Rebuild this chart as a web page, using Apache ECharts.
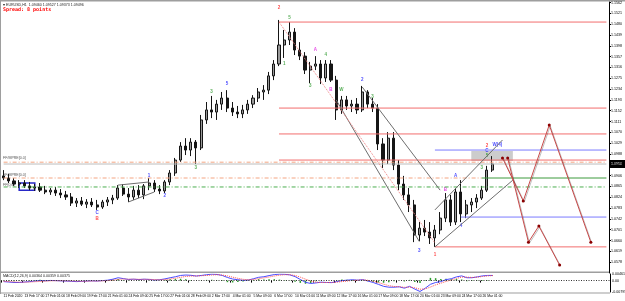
<!DOCTYPE html>
<html>
<head>
<meta charset="utf-8">
<script src="https://cdn.jsdelivr.net/npm/echarts@6/dist/echarts.min.js"></script>
<style>
  html, body { margin: 0; padding: 0; background: #fff; }
  #chart { width: 625px; height: 301px; }
</style>
</head>
<body>
<div id="chart"></div>
<script>
// EURUSD H1, bars grouped by 8 hours (4 bars per time label)
const tickLabels = ['11 Feb 2020', '13 Feb 17:00', '17 Feb 01:00', '18 Feb 09:00', '19 Feb 17:00', '21 Feb 01:00',
  '24 Feb 09:00', '25 Feb 17:00', '27 Feb 01:00', '28 Feb 09:00', '2 Mar 17:00', '4 Mar 01:00',
  '5 Mar 09:00', '6 Mar 17:00', '10 Mar 01:00', '11 Mar 09:00', '12 Mar 17:00', '16 Mar 01:00',
  '17 Mar 09:00', '18 Mar 17:00', '20 Mar 01:00', '23 Mar 09:00', '24 Mar 17:00', '26 Mar 01:00']

const opens = [1.0905, 1.0897, 1.0886, 1.0874, 1.0878, 1.0867, 1.0859, 1.0863, 1.0851, 1.0844,
  1.0851, 1.0840, 1.0833, 1.0825, 1.0802, 1.0810, 1.0798, 1.0806, 1.0795, 1.0787,
  1.0806, 1.0814, 1.0821, 1.0859, 1.0836, 1.0825, 1.0851, 1.0833, 1.0867, 1.0878,
  1.0855, 1.0848, 1.0882, 1.0916, 1.0965, 1.1018, 1.1003, 1.1033, 1.1011, 1.1117,
  1.1155, 1.1147, 1.1177, 1.1200, 1.1162, 1.1147, 1.1140, 1.1155, 1.1177, 1.1200,
  1.1223, 1.1230, 1.1284, 1.1329, 1.1401, 1.1420, 1.1450, 1.1382, 1.1359, 1.1306,
  1.1321, 1.1329, 1.1276, 1.1329, 1.1268, 1.1155, 1.1193, 1.1170, 1.1177, 1.1155,
  1.1223, 1.1177, 1.1162, 1.1026, 1.0965, 1.1048, 1.0946, 1.0874, 1.0833, 1.0795,
  1.0681, 1.0707, 1.0692, 1.0670, 1.0700, 1.0745, 1.0814, 1.0730, 1.0844, 1.0761,
  1.0795, 1.0806, 1.0821, 1.0851, 1.0927]
const closes = [1.0897, 1.0886, 1.0874, 1.0878, 1.0867, 1.0859, 1.0863, 1.0851, 1.0844, 1.0851,
  1.0840, 1.0833, 1.0825, 1.0802, 1.0810, 1.0798, 1.0806, 1.0795, 1.0787, 1.0806,
  1.0814, 1.0821, 1.0859, 1.0836, 1.0825, 1.0851, 1.0833, 1.0867, 1.0878, 1.0855,
  1.0848, 1.0882, 1.0916, 1.0965, 1.1018, 1.1003, 1.1033, 1.1011, 1.1117, 1.1155,
  1.1147, 1.1177, 1.1200, 1.1162, 1.1147, 1.1140, 1.1155, 1.1177, 1.1200, 1.1223,
  1.1230, 1.1284, 1.1329, 1.1401, 1.1420, 1.1450, 1.1382, 1.1359, 1.1306, 1.1321,
  1.1329, 1.1276, 1.1329, 1.1268, 1.1155, 1.1193, 1.1170, 1.1177, 1.1155, 1.1223,
  1.1177, 1.1162, 1.1026, 1.0965, 1.1048, 1.0946, 1.0874, 1.0833, 1.0795, 1.0681,
  1.0707, 1.0692, 1.0670, 1.0700, 1.0745, 1.0814, 1.0730, 1.0844, 1.0761, 1.0795,
  1.0806, 1.0821, 1.0851, 1.0927, 1.0950]
const lows = [1.0889, 1.0878, 1.0867, 1.0859, 1.0859, 1.0851, 1.0848, 1.0844, 1.0836, 1.0833,
  1.0829, 1.0821, 1.0814, 1.0791, 1.0787, 1.0791, 1.0783, 1.0787, 1.0776, 1.0780,
  1.0791, 1.0798, 1.0814, 1.0829, 1.0806, 1.0814, 1.0821, 1.0817, 1.0851, 1.0844,
  1.0836, 1.0840, 1.0870, 1.0905, 1.0958, 1.0984, 1.0980, 1.0950, 1.1003, 1.1102,
  1.1124, 1.1117, 1.1155, 1.1147, 1.1132, 1.1124, 1.1124, 1.1140, 1.1162, 1.1185,
  1.1193, 1.1215, 1.1268, 1.1321, 1.1352, 1.1401, 1.1363, 1.1344, 1.1291, 1.1257,
  1.1306, 1.1253, 1.1261, 1.1261, 1.1117, 1.1140, 1.1155, 1.1147, 1.1140, 1.1147,
  1.1162, 1.1147, 1.1003, 1.0935, 1.0950, 1.0927, 1.0851, 1.0814, 1.0768, 1.0654,
  1.0658, 1.0677, 1.0647, 1.0636, 1.0684, 1.0730, 1.0715, 1.0719, 1.0730, 1.0745,
  1.0768, 1.0783, 1.0814, 1.0844, 1.0920]
const highs = [1.0927, 1.0912, 1.0897, 1.0889, 1.0889, 1.0882, 1.0874, 1.0878, 1.0867, 1.0859,
  1.0863, 1.0855, 1.0848, 1.0840, 1.0821, 1.0825, 1.0817, 1.0821, 1.0814, 1.0814,
  1.0825, 1.0833, 1.0870, 1.0874, 1.0859, 1.0867, 1.0870, 1.0874, 1.0897, 1.0889,
  1.0870, 1.0889, 1.0927, 1.0973, 1.1033, 1.1048, 1.1048, 1.1041, 1.1136, 1.1185,
  1.1208, 1.1193, 1.1223, 1.1230, 1.1185, 1.1170, 1.1174, 1.1193, 1.1211, 1.1238,
  1.1249, 1.1299, 1.1344, 1.1496, 1.1458, 1.1488, 1.1465, 1.1412, 1.1374, 1.1337,
  1.1359, 1.1344, 1.1344, 1.1344, 1.1284, 1.1208, 1.1208, 1.1193, 1.1200, 1.1246,
  1.1230, 1.1200, 1.1177, 1.1048, 1.1071, 1.1071, 1.0965, 1.0905, 1.0859, 1.0814,
  1.0730, 1.0738, 1.0730, 1.0719, 1.0768, 1.0840, 1.0833, 1.0859, 1.0889, 1.0814,
  1.0821, 1.0836, 1.0867, 1.0943, 1.0980]

// MACD(12,26,9) sub window
const macdMain = [-0.0007, -0.0010, -0.0013, -0.0013, -0.0010, -0.0007, -0.0003, 0.0000, -0.0001, 0.0001,
  0.0000, -0.0002, -0.0003, -0.0005, -0.0007, -0.0005, -0.0003, -0.0002, -0.0003, 0.0000,
  0.0003, 0.0010, 0.0020, 0.0014, 0.0008, 0.0010, 0.0007, 0.0010, 0.0008, 0.0004,
  0.0006, 0.0012, 0.0020, 0.0027, 0.0036, 0.0039, 0.0037, 0.0032, 0.0036, 0.0041,
  0.0045, 0.0043, 0.0036, 0.0022, 0.0011, 0.0006, 0.0002, 0.0004, 0.0013, 0.0023,
  0.0027, 0.0035, 0.0042, 0.0045, 0.0044, 0.0040, 0.0028, 0.0008, -0.0012, -0.0020,
  -0.0016, -0.0011, -0.0013, -0.0014, -0.0007, 0.0000, 0.0003, 0.0006, 0.0003, 0.0007,
  -0.0003, -0.0013, -0.0026, -0.0040, -0.0046, -0.0046, -0.0043, -0.0053, -0.0040, -0.0059,
  -0.0076, -0.0053, -0.0026, -0.0013, -0.0007, 0.0007, 0.0013, 0.0026, 0.0033, 0.0020,
  0.0020, 0.0026, 0.0033, 0.0036, 0.0036]
const macdSignal = [-0.0005, -0.0007, -0.0009, -0.0011, -0.0011, -0.0010, -0.0008, -0.0006, -0.0004, -0.0002,
  -0.0001, -0.0001, -0.0002, -0.0003, -0.0004, -0.0005, -0.0004, -0.0003, -0.0003, -0.0002,
  0.0000, 0.0003, 0.0008, 0.0011, 0.0010, 0.0010, 0.0009, 0.0009, 0.0009, 0.0007,
  0.0006, 0.0007, 0.0011, 0.0016, 0.0023, 0.0029, 0.0032, 0.0032, 0.0034, 0.0036,
  0.0039, 0.0041, 0.0039, 0.0033, 0.0024, 0.0016, 0.0009, 0.0006, 0.0008, 0.0013,
  0.0019, 0.0025, 0.0032, 0.0038, 0.0041, 0.0041, 0.0036, 0.0024, 0.0010, -0.0003,
  -0.0011, -0.0013, -0.0013, -0.0013, -0.0011, -0.0007, -0.0003, 0.0001, 0.0003, 0.0005,
  0.0002, -0.0004, -0.0013, -0.0025, -0.0035, -0.0041, -0.0043, -0.0047, -0.0045, -0.0050,
  -0.0060, -0.0058, -0.0045, -0.0030, -0.0018, -0.0006, 0.0004, 0.0015, 0.0025, 0.0024,
  0.0022, 0.0024, 0.0029, 0.0033, 0.0035]
const macdHist = [-0.0002, -0.0003, -0.0004, -0.0002, 0.0001, 0.0003, 0.0005, 0.0006, 0.0003, 0.0003,
  0.0001, -0.0001, -0.0001, -0.0002, -0.0003, 0.0000, 0.0001, 0.0001, 0.0000, 0.0002,
  0.0003, 0.0007, 0.0012, 0.0003, -0.0002, 0.0000, -0.0002, 0.0001, -0.0001, -0.0003,
  0.0000, 0.0005, 0.0009, 0.0011, 0.0013, 0.0010, 0.0005, 0.0000, 0.0002, 0.0005,
  0.0006, 0.0002, -0.0003, -0.0011, -0.0013, -0.0010, -0.0007, -0.0002, 0.0005, 0.0010,
  0.0008, 0.0010, 0.0010, 0.0007, 0.0003, -0.0001, -0.0008, -0.0016, -0.0022, -0.0017,
  -0.0005, 0.0002, 0.0000, -0.0001, 0.0004, 0.0007, 0.0006, 0.0005, 0.0000, 0.0002,
  -0.0005, -0.0009, -0.0013, -0.0015, -0.0011, -0.0005, 0.0000, -0.0006, 0.0005, -0.0009,
  -0.0016, 0.0005, 0.0019, 0.0017, 0.0011, 0.0013, 0.0009, 0.0011, 0.0008, -0.0004,
  -0.0002, 0.0002, 0.0004, 0.0003, 0.0001]
const macdTicks = [0.00461, 0, -0.00795]

// drawn objects: levels, trend lines, projections, wave marks
const fibLevels = [1.1488, 1.1162, 1.1064, 1.0965, 1.0636]
const fibFrom = [53, 53, 53, 53, 83]
const fibNames = ['100.0', '61.8', '50.0', '38.2', '0.0']
const feLevels = [1.1003, 1.0749]
const feFrom = [83, 88]
const greenLevel = 1.0897
const orangeDashLevels = [1.0957, 1.0897]
const orangeDashTo = [116, 92]
const greenDashLevel = 1.0863
const trendLines = [
  [[69, 1.1242], [84, 1.0851]],
  [[64, 1.1193], [80, 1.0656]],
  [[83, 1.0776], [96, 1.1041]],
  [[83, 1.0636], [98, 1.0889]],
  [[22, 1.0870], [28, 1.0882]],
  [[24, 1.0806], [29, 1.0844]]
]
const dottedTrend = [[53, 1.1488], [83, 1.0651]]
const projectionA = [[96, 1.0973], [100, 1.0810], [105, 1.1098], [113, 1.0654]]
const projectionB = [[97, 1.0973], [101, 1.0654], [103, 1.0715], [107, 1.0567]]
const grayZone = [[90, 1.0999], [98, 1.0961]]
const blueBox = [[3, 1.0878], [6, 1.0851]]
const waveMarks = [
  [18, 1.0764, 'C', 'b'], [18, 1.0743, 'B', 'r'], [28, 1.0905, '1', 'b'], [31, 1.0829, '2', 'b'],
  [37, 1.0935, '3', 'g'], [40, 1.1223, '3', 'g'], [43, 1.1253, '5', 'b'], [53, 1.1541, '2', 'r'],
  [54, 1.1329, '1', 'g'], [55, 1.1504, '5', 'g'], [59, 1.1246, '3', 'g'], [60, 1.1382, 'A', 'm'],
  [62, 1.1363, '4', 'g'], [63, 1.1230, 'B', 'm'], [65, 1.1230, 'W', 'g'], [69, 1.1268, '2', 'b'],
  [71, 1.1204, '3', 'g'], [80, 1.0620, '3', 'b'], [83, 1.0605, '1', 'r'], [85, 1.0851, 'B', 'm'],
  [87, 1.0905, 'A', 'b'], [88, 1.0715, '4', 'b'], [92, 1.0935, '3', 'g'], [93, 1.1018, '2', 'r'],
  [93, 1.0999, 'C', 'b'], [93, 1.0980, '5', 'g'], [95, 1.1022, 'W(4)', 'b']
]

const waveColor = { r: '#ff2020', g: '#2e9a2e', b: '#2020ff', m: '#e020e0' }
const catCount = 117
const cats = Array.from({ length: catCount }, (_, i) => i)
const lastIdx = catCount - 1
const small = 3.6
const font = 'Liberation Sans'

const chart = echarts.init(document.getElementById('chart'), null, { renderer: 'canvas' })

function hLine(price, from, to, color, type, extra) {
  return Object.assign({
    type: 'line',
    xAxisIndex: 0,
    yAxisIndex: 0,
    data: [[from, price], [to, price]],
    symbol: 'none',
    silent: true,
    animation: false,
    lineStyle: { color: color, width: 1, type: type }
  }, extra || {})
}

const series = []

series.push({
  type: 'candlestick',
  xAxisIndex: 0,
  yAxisIndex: 0,
  data: opens.map((o, i) => [o, closes[i], lows[i], highs[i]]),
  barMaxWidth: 2.6,
  itemStyle: { color: '#9a9a9a', color0: '#151515', borderColor: '#151515', borderColor0: '#151515', borderWidth: 1 },
  animation: false
})

// bid line + zones
series.push(hLine(closes[closes.length - 1], 0, lastIdx, '#bdbdbd', 'solid', {
  markArea: {
    silent: true,
    data: [
      [{ coord: grayZone[0], itemStyle: { color: 'rgba(170,170,170,0.6)' } }, { coord: grayZone[1] }],
      [{ coord: blueBox[0], itemStyle: { color: 'rgba(255,255,255,0.9)', borderColor: '#2828c8', borderWidth: 1.5 } }, { coord: blueBox[1] }]
    ]
  }
}))

orangeDashLevels.forEach((p, k) => {
  series.push(hLine(p, 0, orangeDashTo[k], '#f4a582', [4, 2, 1, 2]))
})
series.push(hLine(greenDashLevel, 0, lastIdx, '#4caf50', [4, 2, 1, 2]))
series.push(hLine(greenLevel, 92, lastIdx, '#3c9a3c', 'solid'))

fibLevels.forEach((p, k) => {
  const s = hLine(p, fibFrom[k], lastIdx, '#f26d6d', 'solid')
  if (k > 0 && k < 4) {
    s.data[1] = {
      value: [lastIdx, p],
      label: {
        show: true, position: 'top', align: 'right', offset: [2, 1],
        formatter: fibNames[k] + ' | ' + p.toFixed(4),
        color: '#e03030', fontSize: small, fontFamily: font
      }
    }
  }
  series.push(s)
})

feLevels.forEach((p, k) => {
  const s = hLine(p, feFrom[k], lastIdx, '#7b7bff', 'solid')
  if (k === 0) {
    s.data[1] = {
      value: [lastIdx, p],
      label: {
        show: true, position: 'top', align: 'right', offset: [2, 1],
        formatter: 'FE 100.0 | ' + p.toFixed(4) + ' | 1.4',
        color: '#3030ff', fontSize: small, fontFamily: font
      }
    }
  }
  series.push(s)
})

trendLines.forEach((seg) => {
  series.push({
    type: 'line', xAxisIndex: 0, yAxisIndex: 0, data: seg, symbol: 'none', silent: true, animation: false,
    lineStyle: { color: '#6e6e6e', width: 1 }
  })
})
series.push({
  type: 'line', xAxisIndex: 0, yAxisIndex: 0, data: dottedTrend, symbol: 'none', silent: true, animation: false,
  lineStyle: { color: '#f08080', width: 1, type: 'dotted' }
})

;[projectionA, projectionB].forEach((path) => {
  series.push({
    type: 'line', xAxisIndex: 0, yAxisIndex: 0, data: path, silent: true, animation: false,
    symbol: 'circle', symbolSize: 3,
    itemStyle: { color: '#8b0000' },
    lineStyle: { color: '#c84848', width: 1, shadowColor: 'rgba(0,0,0,0.25)', shadowOffsetX: 1, shadowOffsetY: 1 }
  })
})

series.push({
  type: 'scatter', xAxisIndex: 0, yAxisIndex: 0, symbolSize: 0, silent: true, animation: false,
  data: waveMarks.map((w) => ({
    value: [w[0], w[1]],
    label: {
      show: true, position: 'inside', formatter: w[2],
      color: waveColor[w[3]], fontSize: 4.5, fontFamily: font, fontWeight: 'bold'
    }
  }))
})

// MACD window
series.push({
  type: 'bar', xAxisIndex: 1, yAxisIndex: 1, data: macdHist, barWidth: 1.5,
  itemStyle: { color: '#2f9e2f' }, animation: false, silent: true
})
series.push({
  type: 'line', xAxisIndex: 1, yAxisIndex: 1, data: macdMain, symbol: 'none', animation: false, silent: true,
  lineStyle: { color: '#4a4aff', width: 1 },
  markLine: {
    silent: true, symbol: 'none', label: { show: false },
    lineStyle: { color: '#333', type: [1, 1.5], width: 1 },
    data: [{ yAxis: 0 }]
  }
})
series.push({
  type: 'line', xAxisIndex: 1, yAxisIndex: 1, data: macdSignal, symbol: 'none', animation: false, silent: true,
  lineStyle: { color: '#ff5050', width: 1, type: 'dotted' }
})

const showTick = (i) => i % 4 === 0 && i / 4 < tickLabels.length

const option = {
  backgroundColor: '#ffffff',
  animation: false,
  grid: [
    { left: 1, top: 2, width: 609, height: 271 },
    { left: 1, top: 274, width: 609, height: 18 }
  ],
  xAxis: [
    { type: 'category', gridIndex: 0, data: cats, show: false },
    {
      type: 'category', gridIndex: 1, data: cats,
      axisLine: { show: false },
      axisTick: { show: true, length: 2, interval: showTick, lineStyle: { color: '#000' } },
      axisLabel: {
        interval: showTick,
        showMinLabel: true,
        hideOverlap: false,
        formatter: (v, i) => tickLabels[i / 4] || '',
        fontSize: 3.4, color: '#000', align: 'left', margin: 3, fontFamily: font
      },
      splitLine: { show: false }
    }
  ],
  yAxis: [
    {
      type: 'value', gridIndex: 0, position: 'right', min: 1.0537, max: 1.1564, interval: 0.0041,
      axisLine: { show: true, lineStyle: { color: '#000', width: 1 } },
      axisTick: { show: true, length: 2, lineStyle: { color: '#000' } },
      axisLabel: {
        fontSize: small, color: '#000', margin: 2, fontFamily: font,
        showMinLabel: false, showMaxLabel: false, formatter: (v) => v.toFixed(4)
      },
      splitLine: { show: false }
    },
    {
      type: 'value', gridIndex: 1, position: 'right', min: -0.00795, max: 0.00461,
      axisLine: { show: true, lineStyle: { color: '#000', width: 1 } },
      axisTick: { show: false },
      axisLabel: { show: false },
      splitLine: { show: false }
    }
  ],
  series: series
}

chart.setOption(option)

// overlays placed from the scales
const lastPrice = closes[closes.length - 1]
const pY = chart.convertToPixel({ yAxisIndex: 0 }, lastPrice)
const macdLabels = macdTicks.map((v) => ({
  type: 'text', left: 612, top: chart.convertToPixel({ yAxisIndex: 1 }, v) - 2,
  style: { text: v === 0 ? '0.00' : v.toFixed(5), fontSize: small, fill: '#000', fontFamily: font }
}))

chart.setOption({
  graphic: [
    { type: 'rect', shape: { x: 0, y: 0, width: 625, height: 1.5 }, style: { fill: '#9e9e9e' } },
    { type: 'rect', shape: { x: 0, y: 0, width: 1, height: 294 }, style: { fill: '#9e9e9e' } },
    { type: 'rect', shape: { x: 0, y: 271.5, width: 610, height: 1.5 }, style: { fill: '#9e9e9e' } },
    { type: 'rect', shape: { x: 0, y: 292.5, width: 610, height: 1 }, style: { fill: '#9e9e9e' } },
    { type: 'text', left: 3, top: 2.5, style: { text: '\u25be EURUSD,H1  1.09460 1.09527 1.09373 1.09496', fontSize: 3.6, fill: '#222', fontFamily: font } },
    { type: 'text', left: 3, top: 7, style: { text: 'Spread: 8 points', fontSize: 5, fill: '#ff0000', fontWeight: 'bold', fontFamily: 'DejaVu Sans Mono' } },
    { type: 'text', left: 3, top: 156, style: { text: 'FF/MPRE[0.0]', fontSize: small, fill: '#555', fontFamily: font } },
    { type: 'text', left: 3, top: 173, style: { text: 'FF/MPRE[0.0]', fontSize: small, fill: '#555', fontFamily: font } },
    { type: 'text', left: 3, top: 183, style: { text: 'FF[0.0]', fontSize: small, fill: '#555', fontFamily: font } },
    { type: 'text', left: 3, top: 274, style: { text: 'MACD(12,26,9) 0.00364 0.00359 0.00375', fontSize: small, fill: '#222', fontFamily: font } },
    { type: 'rect', shape: { x: 610, y: pY - 4, width: 15, height: 8 }, style: { fill: '#000' } },
    { type: 'text', left: 611, top: pY - 2, style: { text: lastPrice.toFixed(4), fontSize: small, fill: '#fff', fontFamily: font } }
  ].concat(macdLabels)
})
</script>
</body>
</html>
